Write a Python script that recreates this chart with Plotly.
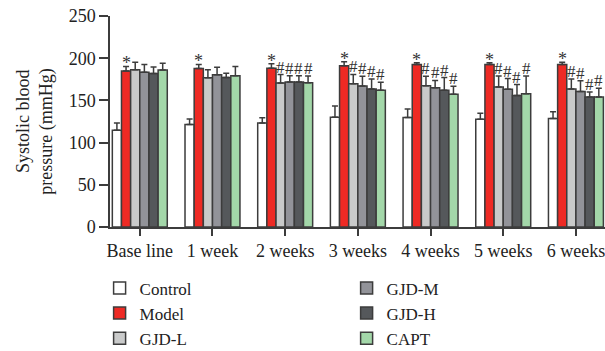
import plotly.graph_objects as go

categories = ["Base line", "1 week", "2 weeks", "3 weeks", "4 weeks", "5 weeks", "6 weeks"]
groups = ["Control", "Model", "GJD-L", "GJD-M", "GJD-H", "CAPT"]

control = [114.7, 121.5, 123.3, 130.0, 129.7, 127.7, 128.5]
model = [184.7, 187.9, 188.0, 191.0, 192.6, 192.6, 192.6]
gjd_l = [186.3, 176.9, 170.6, 169.8, 167.5, 165.9, 163.5]
gjd_m = [183.5, 180.4, 171.8, 167.0, 165.1, 163.1, 160.4]
gjd_h = [182.0, 177.2, 171.8, 163.5, 162.0, 155.7, 154.0]
capt = [185.9, 179.2, 171.0, 162.0, 157.3, 158.0, 154.0]

err_control = [8.5, 6.5, 6.0, 13.5, 10.0, 7.0, 8.0]
err_model = [5.5, 4.7, 5.5, 4.8, 2.0, 2.0, 2.5]
err_l = [9.0, 9.4, 10.0, 11.0, 11.0, 13.0, 12.0]
err_m = [9.0, 9.0, 7.5, 11.5, 8.5, 12.7, 13.0]
err_h = [7.5, 5.0, 7.5, 12.0, 15.0, 13.0, 6.0]
err_capt = [8.0, 11.0, 8.0, 9.5, 9.4, 21.0, 10.5]

# significance marks per category
sig_model = ["*"] * 7
sig_treat = ["", "", "#", "#", "#", "#", "#"]

values = [control, model, gjd_l, gjd_m, gjd_h, capt]
errors = [err_control, err_model, err_l, err_m, err_h, err_capt]
colors = ["#ffffff", "#ee2a24", "#c9caca", "#929399", "#55585b", "#a3d7a9"]
legend_ids = ["legend", "legend", "legend", "legend2", "legend2", "legend2"]

FONT = "Liberation Serif, Times New Roman, serif"
OUT = "#3c3c3c"
bargap = 0.244

fig = go.Figure()
for name, vals, errs, col, lg in zip(groups, values, errors, colors, legend_ids):
    fig.add_trace(go.Bar(
        name=name, x=categories, y=vals, marker=dict(color=col, line=dict(color=OUT, width=1.5)),
        error_y=dict(type="data", array=errs, arrayminus=[0] * len(errs), symmetric=False,
                     color=OUT, thickness=1.5, width=3),
        legend=lg,
    ))

ann = []
n = len(groups)
bw = (1 - bargap) / n
for ci in range(len(categories)):
    for gi in range(n):
        mark = ""
        if gi == 1:
            mark = sig_model[ci]
        elif gi >= 2:
            mark = sig_treat[ci]
        if not mark:
            continue
        xpos = ci - (1 - bargap) / 2 + (gi + 0.5) * bw
        top = values[gi][ci] + errors[gi][ci]
        ann.append(dict(x=xpos, y=top, xref="x", yref="y", text=mark, showarrow=False,
                        xanchor="center", yanchor="bottom", yshift=(-9 if mark == "*" else -4),
                        font=dict(family=FONT, size=18 if mark == "*" else 17, color="#333333")))

ann.append(dict(x=-0.177, y=0.504, xref="paper", yref="paper", text="Systolic blood", textangle=-90,
                xanchor="center", yanchor="middle",
                showarrow=False, font=dict(family=FONT, size=18, color="#222222")))
ann.append(dict(x=-0.13, y=0.45, xref="paper", yref="paper", text="pressure (mmHg)", textangle=-90,
                xanchor="center", yanchor="middle",
                showarrow=False, font=dict(family=FONT, size=18, color="#222222")))

fig.update_layout(
    width=605, height=351,
    margin=dict(l=110, r=0, t=16, b=124, autoexpand=False),
    paper_bgcolor="white", plot_bgcolor="white",
    barmode="group", bargap=bargap, bargroupgap=0,
    font=dict(family=FONT, size=18, color="#222222"),
    annotations=ann,
    legend=dict(x=-0.021, y=-0.206, xanchor="left", yanchor="top",
                orientation="v", font=dict(family=FONT, size=17), tracegroupgap=0,
                bgcolor="rgba(0,0,0,0)"),
    legend2=dict(x=0.478, y=-0.206, xanchor="left", yanchor="top",
                 orientation="v", font=dict(family=FONT, size=17), tracegroupgap=0,
                 bgcolor="rgba(0,0,0,0)"),
    showlegend=True,
)
fig.update_xaxes(range=[-0.41, 6.4], showline=True, linecolor=OUT, linewidth=1.5,
                 ticks="outside", ticklen=7, tickcolor=OUT, tickwidth=1.5,
                 showgrid=False, tickfont=dict(family=FONT, size=18))
fig.update_yaxes(range=[0, 250], tickvals=[0, 50, 100, 150, 200, 250], showline=True,
                 linecolor=OUT, linewidth=1.5, ticks="outside", ticklen=9, tickcolor=OUT,
                 tickwidth=1.5, showgrid=False, zeroline=False, tickfont=dict(family=FONT, size=18))

fig.write_html("out.html", config={"displayModeBar": False},
               post_script="document.body.style.margin='0';")
